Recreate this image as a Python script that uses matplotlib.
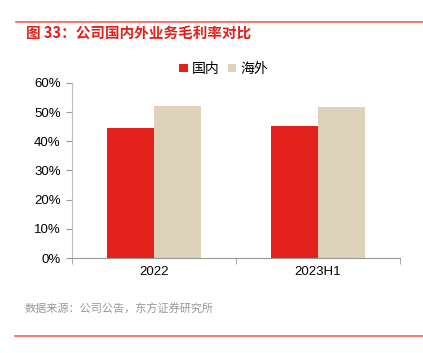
import matplotlib
matplotlib.use("Agg")
import matplotlib.pyplot as plt
import numpy as np

plt.rcParams['font.family'] = ['Liberation Sans', 'Noto Sans CJK SC', 'DejaVu Sans']

categories = ["2022", "2023H1"]
domestic = [44.6, 45.4]
overseas = [52.1, 51.8]
series_names = ["国内", "海外"]
yticks = [0, 10, 20, 30, 40, 50, 60]

red = "#E2211C"
beige = "#DDD3BB"

fig = plt.figure(figsize=(4.23, 3.53), dpi=100)
ax = fig.add_axes([0.170, 0.269, 0.776, 0.496])

x = np.arange(len(categories))
w = 0.287
ax.bar(x - w / 2, domestic, w, color=red, label=series_names[0])
ax.bar(x + w / 2, overseas, w, color=beige, label=series_names[1])

ax.set_xlim(-0.5, 1.5)
ax.set_ylim(0, 60)
ax.set_yticks(yticks)
ax.set_yticklabels([f"{v}%" for v in yticks], fontsize=9.5)
ax.set_xticks(x)
ax.set_xticklabels(categories, fontsize=9.5)
ax.set_xticks([-0.5, 0.5, 1.5], minor=True)
ax.tick_params(axis='x', which='major', length=0, pad=6)
ax.tick_params(axis='x', which='minor', length=4, color="#999999", direction='out')
ax.tick_params(axis='y', length=4, color="#999999", pad=4)
for s in ["top", "right"]:
    ax.spines[s].set_visible(False)
ax.spines["left"].set_color("#BBBBBB")
ax.spines["bottom"].set_color("#999999")

leg = ax.legend(loc="center", bbox_to_anchor=(0.463, 1.08), ncol=2, frameon=False,
                prop={'family': ['Noto Sans CJK SC'], 'size': 10},
                handlelength=0.6, handleheight=0.6, handletextpad=0.3, columnspacing=0.6)

fig.add_artist(plt.Line2D([16 / 423, 1], [1 - 22 / 353] * 2, color="#F0625A", lw=1.2))
fig.add_artist(plt.Line2D([15 / 423, 1], [1 - 336 / 353] * 2, color="#F0625A", lw=1.2))
fig.text(26 / 423, 1 - 33 / 353, "图 33：公司国内外业务毛利率对比", color=red, fontsize=10.5,
         fontweight="bold", va="center", family=['Noto Sans CJK SC'])
fig.text(25 / 423, 1 - 309 / 353, "数据来源：公司公告，东方证券研究所", color="#999999", fontsize=8,
         va="center", family=['Noto Sans CJK SC'])

fig.savefig("out.png", dpi=100)
